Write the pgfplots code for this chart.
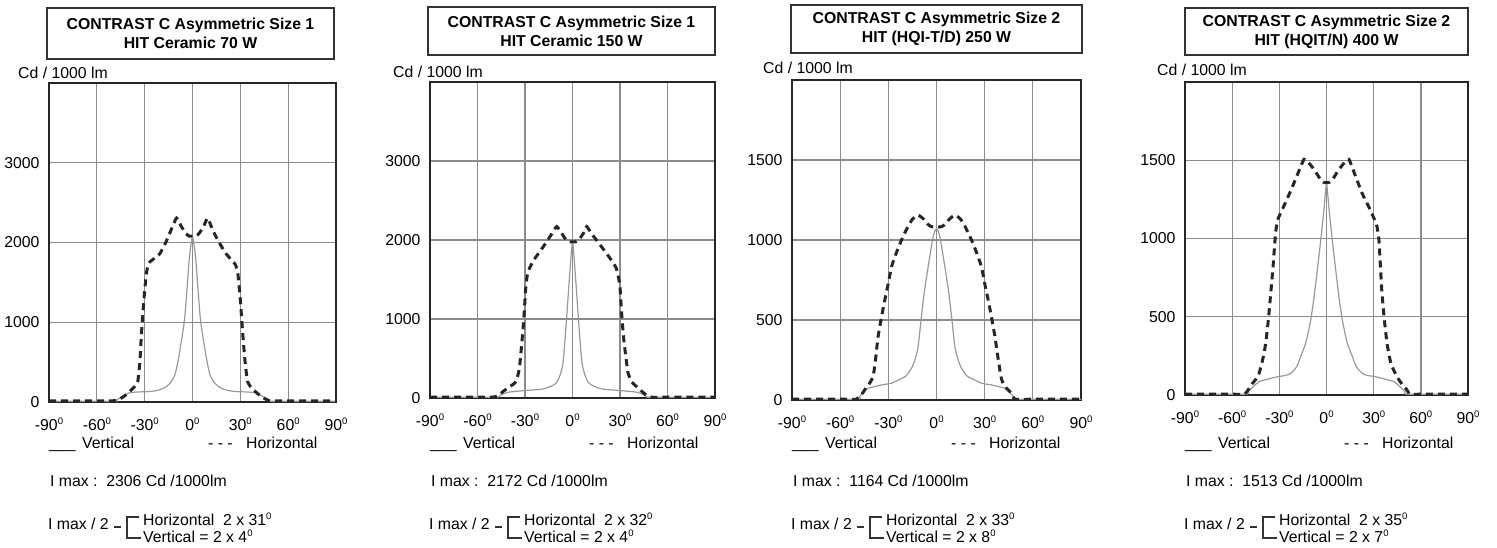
\documentclass[border=0pt]{standalone}
\usepackage{fontspec}
\setmainfont{Liberation Sans}
\usepackage{pgfplots}
\pgfplotsset{compat=1.18}

\newcommand\F{\fontsize{15.8}{19}\selectfont}
\newcommand\dg{\raisebox{0.42em}{\fontsize{9.5}{9.5}\selectfont 0}}

\pgfplotsset{
  lumi/.style={
    scale only axis, anchor=south west,
    xmin=-90, xmax=90, ymin=0,
    xtick={-90,-60,...,90},
    xticklabels={-90\dg,-60\dg,-30\dg,0\dg,30\dg,60\dg,90\dg},
    grid=major, major grid style={draw=black!45, line width=1.3pt},
    axis line style={draw=black!85, line width=2.8pt},
    tick style={draw=none},
    tick label style={font=\F},
    xticklabel style={anchor=base, yshift=-29pt},
    yticklabel style={xshift=-6pt},
    /pgf/number format/assume math mode=true,
    /pgf/number format/1000 sep={},
    clip=false,
  },
  vert/.style={draw=black!40, line width=1.2pt, smooth, tension=0.4, mark=none},
  horz/.style={draw=black!85, line width=3pt, dash pattern=on 7pt off 5pt, smooth, tension=0.3, mark=none},
}

\tikzset{
  txt/.style={font=\F, inner sep=0pt},
  ttl/.style={draw=black!80, line width=2.6pt, align=center, inner sep=0pt, font=\F\bfseries},
}

% legend and Imax block under each panel; #1 = left edge of the plot box
\newcommand\foot[4]{%
  \node[txt, anchor=base west] at (#1,99) {\_\_\_};
  \node[txt, anchor=base west] at ({#1+33},99) {Vertical};
  \node[txt, anchor=base west] at ({#1+159},99) {- - -};
  \node[txt, anchor=base west] at ({#1+197},99) {Horizontal};
  \node[txt, anchor=base west] at ({#1+1},61) {I max :\ \ #2 Cd /1000lm};
  \node[txt, anchor=base west] at ({#1-1},18) {I max / 2};
  \draw[line width=1.1pt, black!80] ({#1+65},21) -- ({#1+72},21)
    ({#1+90},31) -- ({#1+78},31) -- ({#1+78},10) -- ({#1+92},10);
  \node[txt, anchor=base west] at ({#1+94},22) {Horizontal\ \ 2 x #3\dg};
  \node[txt, anchor=base west] at ({#1+94},5) {Vertical = 2 x #4\dg};
}

\begin{document}
\begin{tikzpicture}[x=1pt, y=1pt]
\useasboundingbox (0,0) rectangle (1497,548);

% ---------- panel 1
\node[ttl, minimum width=287pt, minimum height=51pt] at (190.5,514.5)
  {CONTRAST C Asymmetric Size 1\\HIT Ceramic 70 W};
\node[txt, anchor=west] at (18,475) {Cd / 1000 lm};
\begin{axis}[lumi, at={(49pt,146pt)}, width=287pt, height=319pt,
  ymax=4000, ytick={0,1000,2000,3000}]
\addplot[vert] coordinates {(-90,10)(-50,10)(-48,20)(-44,70)(-40,112)(-35,125)(-28,130)(-22,145)(-17,185)(-13.5,250)(-11,340)(-9,520)(-7,760)(-5,1030)(-3.5,1400)(-2,1800)(0,2070)(2,1800)(3.5,1400)(5,1030)(7,760)(9,520)(11,340)(13.5,250)(17,185)(22,145)(28,130)(35,125)(40,112)(44,70)(48,20)(50,10)(90,10)};
\addplot[horz] coordinates {(-90,15)(-70,15)(-50,15)(-47,25)(-43,70)(-39.5,130)(-36,200)(-34.3,260)(-33,500)(-32,860)(-30.5,1280)(-29,1600)(-27.5,1740)(-24,1800)(-20.5,1860)(-17,1990)(-14,2130)(-10,2306)(-7,2200)(-4,2110)(-2,2080)(0,2080)(2,2080)(4,2110)(7,2200)(9.5,2306)(13,2140)(17,1990)(21,1860)(25,1770)(27,1720)(28.5,1600)(30,1280)(31.5,860)(33,500)(34.5,260)(36.5,190)(39.5,130)(43,70)(47,25)(50,15)(70,15)(90,15)};
\end{axis}
\foot{49}{2306}{31}{4}

% ---------- panel 2
\node[ttl, minimum width=287pt, minimum height=48pt] at (571.5,517)
  {CONTRAST C Asymmetric Size 1\\HIT Ceramic 150 W};
\node[txt, anchor=west] at (393,476) {Cd / 1000 lm};
\begin{axis}[lumi, at={(430pt,150pt)}, width=285pt, height=316pt,
  ymax=4000, ytick={0,1000,2000,3000}]
\addplot[vert] coordinates {(-90,10)(-50,10)(-47,15)(-44,50)(-40,75)(-29,96)(-20,110)(-16.4,126)(-12.5,160)(-10.1,195)(-8,280)(-5.9,460)(-3.8,990)(-2,1500)(0,1970)(2,1500)(3.8,990)(5.9,460)(8,280)(10.1,195)(12.5,160)(16.4,126)(20,110)(29,96)(40,75)(44,50)(47,15)(50,10)(90,10)};
\addplot[horz] coordinates {(-90,10)(-60,10)(-50,12)(-47,30)(-43.8,83)(-40,140)(-37,180)(-35.4,220)(-34,330)(-33.3,420)(-32,700)(-30.8,990)(-29.5,1400)(-28.5,1560)(-27,1650)(-24,1760)(-20,1870)(-16.4,1977)(-13,2080)(-10,2170)(-7,2090)(-4,2000)(-2,1977)(0,1977)(2,1977)(4,2000)(7,2090)(9,2170)(12,2080)(16,1977)(20,1870)(24,1760)(27.5,1650)(29,1530)(30,1400)(31.3,990)(32.5,720)(34,470)(35.1,315)(37.5,200)(40.4,146)(44,80)(48.8,12)(60,10)(90,10)};
\end{axis}
\foot{430}{2172}{32}{4}

% ---------- panel 3
\node[ttl, minimum width=291pt, minimum height=48pt] at (936.5,519)
  {CONTRAST C Asymmetric Size 2\\HIT (HQI-T/D) 250 W};
\node[txt, anchor=west] at (763,480) {Cd / 1000 lm};
\begin{axis}[lumi, at={(792pt,148pt)}, width=289pt, height=320pt,
  ymax=2000, ytick={0,500,1000,1500}]
\addplot[vert] coordinates {(-90,5)(-50,5)(-48,20)(-45,55)(-42.7,73)(-34.3,94)(-28,105)(-23.9,125)(-19,150)(-15.6,198)(-13.5,250)(-11.5,330)(-9.4,521)(-7.5,680)(-5.2,833)(-2.1,1020)(0,1070)(2.1,1020)(5.2,833)(7.5,680)(9.4,521)(11.5,330)(13.5,250)(15.6,198)(19,150)(23.9,125)(28,105)(34.3,94)(42.7,73)(45,55)(48,20)(50,5)(90,5)};
\addplot[horz] coordinates {(-90,5)(-60,5)(-50,5)(-47,30)(-44.7,63)(-42,100)(-39.5,146)(-38,250)(-36.4,396)(-34.2,520)(-32.2,625)(-30,730)(-28,833)(-25,920)(-21.8,1000)(-18,1080)(-15,1130)(-11.5,1156)(-8,1130)(-5,1095)(-3,1083)(0,1080)(3,1083)(5,1095)(8,1130)(11.5,1156)(15,1130)(18,1080)(21.8,1000)(25,920)(28,833)(30,730)(32.2,625)(34.2,520)(36.4,396)(38.5,250)(40.5,130)(43,80)(46.8,40)(49,5)(60,5)(90,5)};
\end{axis}
\foot{792}{1164}{33}{8}

% ---------- panel 4
\node[ttl, minimum width=283pt, minimum height=47pt] at (1326.5,516.5)
  {CONTRAST C Asymmetric Size 2\\HIT (HQIT/N) 400 W};
\node[txt, anchor=west] at (1157,478) {Cd / 1000 lm};
\begin{axis}[lumi, at={(1185pt,153pt)}, width=283pt, height=313pt,
  ymax=2000, ytick={0,500,1000,1500}]
\addplot[vert] coordinates {(-90,5)(-52,5)(-50,20)(-47,50)(-43,85)(-39.7,95)(-31,117)(-26,125)(-22.8,138)(-19,180)(-16.5,244)(-13,340)(-10.1,477)(-8,620)(-5.9,795)(-4,960)(-1.7,1177)(0,1350)(1.7,1177)(4,960)(5.9,795)(8,620)(10.1,477)(13,340)(16.5,244)(19,180)(22.8,138)(26,125)(31,117)(39.7,95)(43,85)(47,50)(50,20)(52,5)(90,5)};
\addplot[horz] coordinates {(-90,5)(-60,5)(-52.4,5)(-50,30)(-47.1,74)(-45,100)(-42.9,138)(-40.5,230)(-38.7,329)(-37,480)(-35.5,647)(-34,820)(-32.7,997)(-31.3,1113)(-27,1210)(-22.8,1304)(-18,1420)(-14.3,1506)(-11,1480)(-8,1442)(-4,1380)(-2,1360)(0,1357)(2,1360)(4,1380)(8,1442)(11,1480)(14.2,1506)(18,1410)(22.6,1290)(27,1200)(31.7,1092)(33.3,997)(34.3,820)(35.3,647)(36.8,480)(38.5,329)(41,200)(44.8,117)(48,70)(51.2,32)(53,5)(60,5)(90,5)};
\end{axis}
\foot{1185}{1513}{35}{7}

\end{tikzpicture}
\end{document}
